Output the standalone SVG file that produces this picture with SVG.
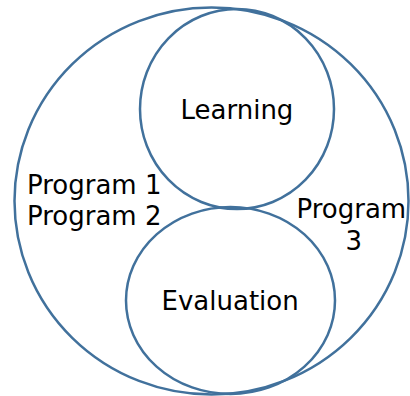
<svg xmlns="http://www.w3.org/2000/svg" width="410" height="396" viewBox="0 0 410 396">
<style>
.c{fill:none;stroke:#41719C;stroke-width:2.5}
text{font-family:"DejaVu Sans",Verdana,sans-serif;font-size:26px;fill:#000}
</style>
<rect width="410" height="396" fill="#fff"/>
<g id="outer"><ellipse class="c" cx="211.5" cy="201" rx="197" ry="193.5"/></g>
<g id="learning"><ellipse class="c" cx="237" cy="109" rx="97" ry="100"/><text x="180.5" y="119">Learning</text></g>
<g id="evaluation"><ellipse class="c" cx="230.5" cy="300.5" rx="104.5" ry="93.5"/><text x="161.5" y="310">Evaluation</text></g>
<g id="programs12"><text x="27" y="193.5">Program 1</text><text x="27" y="225">Program 2</text></g>
<g id="program3"><text x="296.5" y="217.5">Program</text><text x="345.5" y="250">3</text></g>
<g id="connectors"/>
</svg>
